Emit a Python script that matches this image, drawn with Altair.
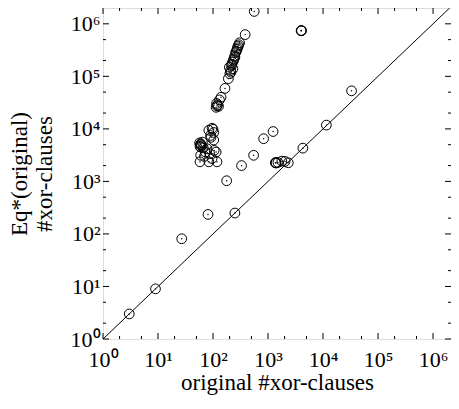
import altair as alt
import pandas as pd

# original #xor-clauses (x) and Eq*(original) #xor-clauses (y)
orig_xor = [
    3, 9, 27, 81, 250, 4300, 11500, 33000,
    177, 330, 547, 832, 1236,
    1360, 1380, 1400, 1514, 1783, 2041, 2333,
    4000, 4050, 4020, 561, 384,
    304, 285, 274, 258, 248, 238, 226, 217, 198, 208, 202, 190, 165, 140, 131, 121, 114, 126,
    250, 235, 220, 280, 295, 265, 230, 212, 118, 116,
    96, 84, 103, 92, 103, 59.6, 58, 66.5, 78, 105, 114, 87, 59.6, 58, 84, 118, 96, 73,
    60, 62, 57, 60, 64, 100, 90, 70,
]
eq_xor = [
    3, 9, 81, 235, 250, 4300, 11800, 53000,
    1030, 2000, 3140, 6500, 8900,
    2260, 2280, 2240, 2290, 2430, 2400, 2260,
    740000, 745000, 735000, 1720000, 623000,
    436000, 378000, 327000, 284000, 246000, 213000, 185000, 160000, 149000, 129000, 112000, 90400, 58900, 40000, 35600, 28800, 25700, 26900,
    230000, 200000, 170000, 350000, 400000, 300000, 140000, 120000, 27500, 30500,
    10270, 9420, 8540, 6890, 6140, 5170, 4620, 4350, 4170, 3890, 3620, 3370, 3140, 2360, 2360, 2360, 2720, 3620,
    5000, 4800, 5400, 4500, 5600, 9800, 7500, 3000,
]

major_ticks = [1, 10, 100, 1e3, 1e4, 1e5, 1e6]
minor_ticks = [2, 5, 20, 50, 200, 500, 2e3, 5e3, 2e4, 5e4, 2e5, 5e5]
diag_x = [1, 2.0e6]
diag_y = [1, 2.0e6]

W, H = 348, 331
XMAX, YMAX = 2.12e6, 2.0e6
FONT = "Liberation Serif"

pts = pd.DataFrame({"x": orig_xor, "y": eq_xor})
maj = pd.DataFrame({"v": major_ticks})
mnr = pd.DataFrame({"v": minor_ticks})
diag = pd.DataFrame({"x": diag_x, "y": diag_y})

xs = alt.Scale(type="log", domain=[1, XMAX], nice=False)
ys = alt.Scale(type="log", domain=[1, YMAX], nice=False)

lab = "'10' + substring('⁰¹²³⁴⁵⁶', round(log(datum.value)/LN10), round(log(datum.value)/LN10) + 1)"

xaxis = alt.Axis(values=major_ticks, labelExpr=lab, grid=False, ticks=False, domain=False,
                 labelFont=FONT, labelFontSize=22, labelColor="black", labelPadding=10,
                 title="original #xor-clauses", titleFont=FONT, titleFontSize=23,
                 titleFontWeight="normal", titleColor="black", titlePadding=1, labelFlush=False)
yaxis = alt.Axis(values=major_ticks, labelExpr=lab, grid=False, ticks=False, domain=False,
                 labelFont=FONT, labelFontSize=22, labelColor="black", labelPadding=3,
                 labelBaseline="middle",
                 title=["Eq*(original)", "#xor-clauses"], titleFont=FONT, titleFontSize=23,
                 titleFontWeight="normal", titleColor="black", titleX=-72, titleY=H / 2,
                 labelFlush=False)

circles = alt.Chart(pts).mark_point(shape="circle", filled=False, size=95, stroke="black",
                                    strokeWidth=1, opacity=1).encode(
    x=alt.X("x:Q", scale=xs, axis=xaxis),
    y=alt.Y("y:Q", scale=ys, axis=yaxis),
)
dots = alt.Chart(pts).mark_circle(size=2, color="black", opacity=1).encode(
    x=alt.X("x:Q", scale=xs), y=alt.Y("y:Q", scale=ys))

line = alt.Chart(diag).mark_line(color="black", strokeWidth=1, clip=True).encode(
    x=alt.X("x:Q", scale=xs), y=alt.Y("y:Q", scale=ys))

def tick_layers(df, ln):
    b = alt.Chart(df).mark_rule(color="black", strokeWidth=1).encode(
        x=alt.X("v:Q", scale=xs), y=alt.value(H), y2=alt.value(H - ln))
    t = alt.Chart(df).mark_rule(color="black", strokeWidth=1).encode(
        x=alt.X("v:Q", scale=xs), y=alt.value(0), y2=alt.value(ln))
    l = alt.Chart(df).mark_rule(color="black", strokeWidth=1).encode(
        y=alt.Y("v:Q", scale=ys), x=alt.value(0), x2=alt.value(ln))
    r = alt.Chart(df).mark_rule(color="black", strokeWidth=1).encode(
        y=alt.Y("v:Q", scale=ys), x=alt.value(W), x2=alt.value(W - ln))
    return [b, t, l, r]

layers = [line] + tick_layers(maj, 6) + tick_layers(mnr, 3) + [circles, dots]

chart = alt.layer(*layers).properties(
    width=W, height=H,
    autosize=alt.AutoSizeParams(type="none"),
    padding={"left": 95, "top": 0, "right": 0, "bottom": 57},
).configure_view(stroke="black", strokeWidth=1.5).configure(background="white")

chart.save("out.html", embed_options={"renderer": "svg", "actions": False})
